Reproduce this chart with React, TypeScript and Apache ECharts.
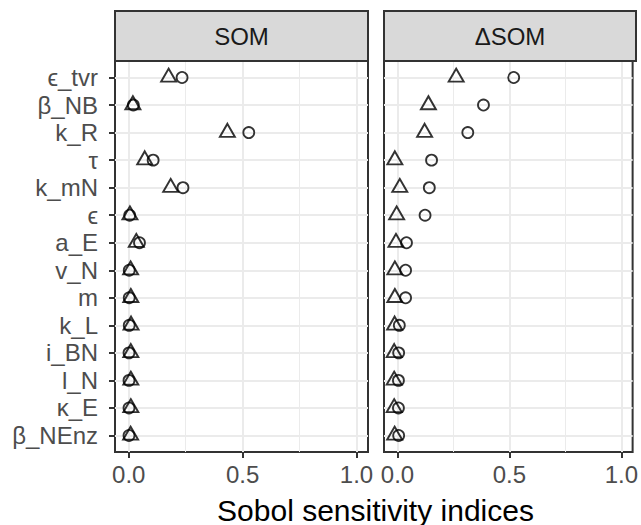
import React, { useEffect, useRef } from "react";
import * as echarts from "echarts";

const categories = ["ϵ_tvr", "β_NB", "k_R", "τ", "k_mN", "ϵ", "a_E", "v_N", "m", "k_L", "i_BN", "l_N", "κ_E", "β_NEnz"];
const panels = ["SOM", "ΔSOM"];
// first-order (triangle) and total (circle) indices, per panel
const somFirst = [0.175, 0.018, 0.433, 0.07, 0.184, 0.005, 0.033, 0.008, 0.009, 0.01, 0.009, 0.009, 0.009, 0.008];
const somTotal = [0.234, 0.02, 0.527, 0.107, 0.238, 0.004, 0.047, 0.002, 0.002, 0.002, 0.001, 0.001, 0.001, 0.001];
const dsomFirst = [0.262, 0.138, 0.121, -0.012, 0.01, -0.004, -0.007, -0.012, -0.012, -0.013, -0.015, -0.015, -0.015, -0.013];
const dsomTotal = [0.519, 0.384, 0.314, 0.152, 0.142, 0.123, 0.04, 0.036, 0.036, 0.008, 0.005, 0.004, 0.004, 0.005];
const xMajorTicks = [0, 0.5, 1];
const xMinorTicks = [0.25, 0.75];
const xTickLabels = ["0.0", "0.5", "1.0"];
const xTitle = "Sobol sensitivity indices";

const FONT = "'Liberation Sans', Arial, Helvetica, sans-serif";

export default function App() {
  const ref = useRef<HTMLDivElement>(null);
  useEffect(() => {
    if (!ref.current) return;
    const chart = echarts.init(ref.current, null, { renderer: "svg" });
    const top = 61;
    const bottom = 73;
    const grids = [
      { left: 115, width: 253 },
      { left: 384, width: 252 },
    ];
    const yIdx = categories.map((_, i) => i);
    const xMin = -0.0605;
    const xMax = 1.0505;

    const grid = grids.map((g) => ({
      left: g.left,
      width: g.width,
      top,
      bottom,
      show: true,
      backgroundColor: "#ffffff",
      borderColor: "#333333",
      borderWidth: 2,
      containLabel: false,
    }));

    const xAxis: any[] = [];
    const yAxis: any[] = [];
    grids.forEach((_, gi) => {
      xAxis.push({
        type: "value",
        gridIndex: gi,
        position: "bottom",
        min: xMin,
        max: xMax,
        axisLine: { show: false, onZero: false },
        axisTick: { show: true, length: 6, customValues: xMajorTicks, lineStyle: { color: "#333333", width: 2 } },
        axisLabel: {
          show: true,
          customValues: xMajorTicks,
          margin: 10,
          color: "#4d4d4d",
          fontSize: 24,
          fontFamily: FONT,
          formatter: (v: number) => xTickLabels[xMajorTicks.indexOf(v)] ?? "",
        },
        splitLine: { show: true, lineStyle: { color: "#ebebeb", width: 2 } },
        z: 1,
      });
      xAxis.push({
        type: "value",
        gridIndex: gi,
        position: "top",
        min: xMin,
        max: xMax,
        axisLine: { show: false, onZero: false },
        axisTick: { show: false, customValues: xMinorTicks },
        axisLabel: { show: false, customValues: xMinorTicks },
        splitLine: { show: true, lineStyle: { color: "#ebebeb", width: 1 } },
        z: 0,
      });
      yAxis.push({
        type: "value",
        gridIndex: gi,
        inverse: true,
        position: "left",
        min: -0.6,
        max: categories.length - 1 + 0.6,
        axisLine: { show: false, onZero: false },
        axisTick: { show: gi === 0, length: 6, customValues: yIdx, lineStyle: { color: "#333333", width: 2 } },
        axisLabel: {
          show: gi === 0,
          customValues: yIdx,
          margin: 17,
          color: "#4d4d4d",
          fontSize: 24,
          fontFamily: FONT,
          formatter: (v: number) => categories[Math.round(v)] ?? "",
        },
        splitLine: { show: true, lineStyle: { color: "#ebebeb", width: 2 } },
      });
    });

    const mk = (vals: number[]) => vals.map((v, i) => [v, i]);
    const triStyle = { color: "rgba(0,0,0,0)", borderColor: "#000000", borderWidth: 1.9 };
    const circStyle = { color: "rgba(0,0,0,0)", borderColor: "#000000", borderWidth: 1.8 };
    const seriesDefs = [
      { g: 0, first: somFirst, total: somTotal },
      { g: 1, first: dsomFirst, total: dsomTotal },
    ];
    const series: any[] = [];
    seriesDefs.forEach((d) => {
      series.push({
        type: "scatter",
        xAxisIndex: d.g * 2,
        yAxisIndex: d.g,
        symbol: "circle",
        symbolSize: 11,
        itemStyle: circStyle,
        data: mk(d.total),
        z: 3,
      });
      series.push({
        type: "scatter",
        xAxisIndex: d.g * 2,
        yAxisIndex: d.g,
        symbol: "triangle",
        symbolSize: [15, 13],
        symbolOffset: [0, -2.3],
        itemStyle: triStyle,
        data: mk(d.first),
        z: 4,
      });
    });

    const graphic: any[] = [];
    grids.forEach((g, gi) => {
      graphic.push({
        type: "rect",
        shape: { x: g.left, y: 11, width: g.width, height: 50 },
        style: { fill: "#d9d9d9", stroke: "#333333", lineWidth: 2 },
        z: 10,
      });
      graphic.push({
        type: "text",
        x: g.left + g.width / 2,
        y: 36,
        style: {
          text: panels[gi],
          fill: "#1a1a1a",
          font: `24px ${FONT}`,
          align: "center",
          verticalAlign: "middle",
        },
        z: 11,
      });
    });
    graphic.push({
      type: "text",
      x: (grids[0].left + grids[1].left + grids[1].width) / 2,
      y: 510,
      style: {
        text: xTitle,
        fill: "#000000",
        font: `30px ${FONT}`,
        align: "center",
        verticalAlign: "middle",
      },
      z: 11,
    });

    chart.setOption({
      animation: false,
      backgroundColor: "#ffffff",
      grid,
      xAxis,
      yAxis,
      series,
      graphic,
    });
    return () => chart.dispose();
  }, []);
  return <div ref={ref} style={{ position: "fixed", left: 0, top: 0, width: 641, height: 525 }} />;
}
